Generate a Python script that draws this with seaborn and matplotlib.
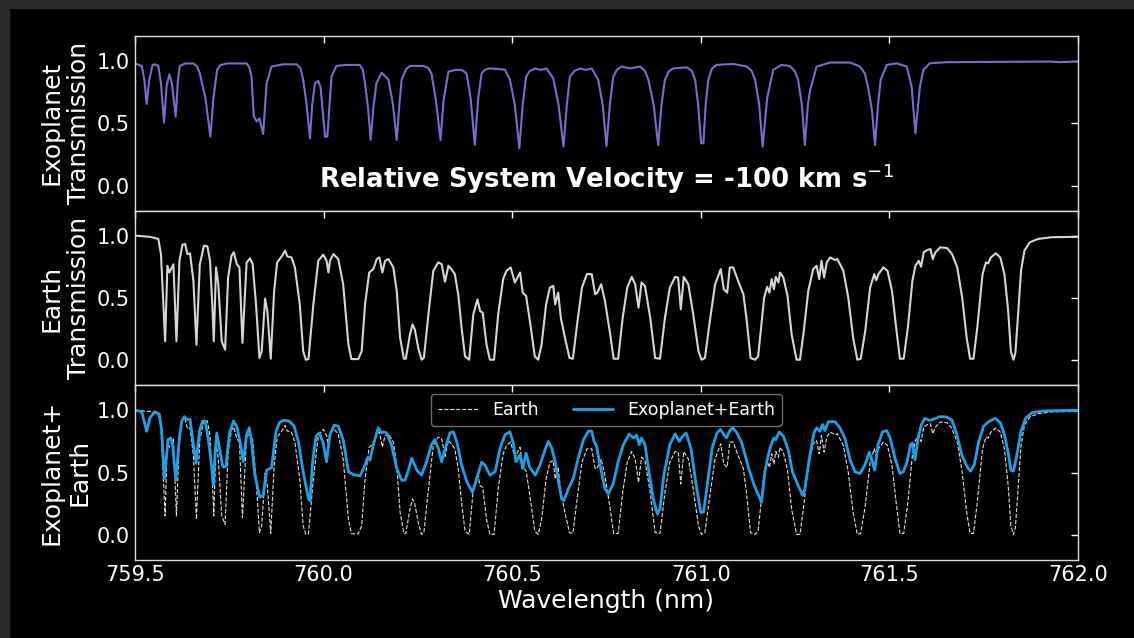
import numpy as np
import pandas as pd
import matplotlib
matplotlib.use("Agg")
import matplotlib.pyplot as plt
from matplotlib.patches import Rectangle
import seaborn as sns

# ---- spectra (wavelength in nm, transmission) ----
exo_wl = [759.500, 759.518, 759.525, 759.531, 759.538, 759.547, 759.553, 759.562, 759.569, 759.577,
          759.584, 759.591, 759.598, 759.608, 759.614, 759.619, 759.633, 759.655, 759.665, 759.672,
          759.687, 759.700, 759.708, 759.718, 759.726, 759.743, 759.796, 759.803, 759.809, 759.815,
          759.823, 759.830, 759.840, 759.849, 759.862, 759.893, 759.929, 759.939, 759.946, 759.955,
          759.964, 759.970, 759.977, 759.986, 759.992, 760.004, 760.010, 760.021, 760.034, 760.061,
          760.096, 760.104, 760.110, 760.118, 760.125, 760.132, 760.140, 760.154, 760.172, 760.184,
          760.194, 760.201, 760.207, 760.218, 760.229, 760.264, 760.277, 760.286, 760.298, 760.310,
          760.318, 760.331, 760.349, 760.366, 760.379, 760.390, 760.401, 760.410, 760.419, 760.428,
          760.441, 760.463, 760.481, 760.494, 760.507, 760.519, 760.528, 760.537, 760.547, 760.561,
          760.576, 760.591, 760.609, 760.623, 760.636, 760.645, 760.653, 760.665, 760.680, 760.695,
          760.711, 760.728, 760.740, 760.750, 760.759, 760.768, 760.778, 760.790, 760.812, 760.839,
          760.852, 760.861, 760.875, 760.887, 760.896, 760.905, 760.915, 760.927, 760.963, 760.976,
          760.985, 760.993, 761.001, 761.007, 761.013, 761.020, 761.030, 761.042, 761.086, 761.122,
          761.135, 761.144, 761.155, 761.164, 761.176, 761.192, 761.214, 761.236, 761.249, 761.258,
          761.268, 761.276, 761.284, 761.290, 761.307, 761.343, 761.396, 761.422, 761.435, 761.445,
          761.454, 761.462, 761.470, 761.477, 761.493, 761.519, 761.546, 761.559, 761.569, 761.581,
          761.590, 761.607, 761.650, 761.926, 761.952, 762.000]
exo_tr = [0.98, 0.96, 0.85, 0.655, 0.85, 0.97, 0.973, 0.96, 0.82, 0.505,
          0.80, 0.893, 0.82, 0.553, 0.85, 0.96, 0.98, 0.98, 0.955, 0.90,
          0.70, 0.393, 0.70, 0.93, 0.965, 0.98, 0.98, 0.95, 0.874, 0.559,
          0.513, 0.54, 0.414, 0.82, 0.955, 0.973, 0.973, 0.94, 0.85, 0.65,
          0.38, 0.65, 0.82, 0.84, 0.79, 0.393, 0.393, 0.874, 0.96, 0.968,
          0.968, 0.93, 0.82, 0.62, 0.366, 0.62, 0.82, 0.906, 0.85, 0.65,
          0.366, 0.65, 0.85, 0.93, 0.96, 0.96, 0.945, 0.90, 0.68, 0.366,
          0.68, 0.914, 0.928, 0.928, 0.90, 0.70, 0.326, 0.70, 0.90, 0.93,
          0.94, 0.935, 0.93, 0.85, 0.65, 0.30, 0.65, 0.874, 0.92, 0.94,
          0.928, 0.94, 0.86, 0.65, 0.313, 0.65, 0.874, 0.92, 0.94, 0.928,
          0.94, 0.85, 0.65, 0.318, 0.65, 0.874, 0.93, 0.955, 0.94, 0.955,
          0.92, 0.85, 0.65, 0.326, 0.65, 0.85, 0.915, 0.94, 0.948, 0.92,
          0.85, 0.65, 0.34, 0.34, 0.65, 0.85, 0.94, 0.968, 0.976, 0.955,
          0.92, 0.85, 0.65, 0.313, 0.70, 0.928, 0.968, 0.96, 0.92, 0.85,
          0.65, 0.326, 0.65, 0.767, 0.955, 0.987, 0.987, 0.955, 0.90, 0.767,
          0.60, 0.326, 0.65, 0.85, 0.968, 0.981, 0.955, 0.794, 0.42, 0.794,
          0.928, 0.981, 0.99, 0.995, 0.99, 0.995]

earth_wl = [759.500, 759.540, 759.562, 759.569, 759.580, 759.586, 759.591, 759.597, 759.602, 759.610,
            759.618, 759.626, 759.633, 759.639, 759.646, 759.655, 759.663, 759.672, 759.683, 759.692,
            759.699, 759.705, 759.709, 759.715, 759.721, 759.730, 759.739, 759.747, 759.756, 759.762,
            759.770, 759.777, 759.785, 759.796, 759.805, 759.812, 759.821, 759.830, 759.836, 759.845,
            759.851, 759.860, 759.869, 759.877, 759.889, 759.898, 759.904, 759.915, 759.924, 759.937,
            759.946, 759.953, 759.960, 759.973, 759.986, 759.999, 760.008, 760.013, 760.017, 760.026,
            760.039, 760.052, 760.066, 760.074, 760.092, 760.101, 760.110, 760.121, 760.132, 760.141,
            760.148, 760.156, 760.163, 760.172, 760.185, 760.194, 760.203, 760.213, 760.218, 760.229,
            760.236, 760.242, 760.251, 760.260, 760.266, 760.278, 760.291, 760.304, 760.313, 760.322,
            760.331, 760.339, 760.348, 760.357, 760.366, 760.375, 760.386, 760.397, 760.408, 760.415,
            760.422, 760.432, 760.441, 760.452, 760.463, 760.476, 760.485, 760.496, 760.507, 760.521,
            760.528, 760.537, 760.547, 760.560, 760.569, 760.578, 760.590, 760.600, 760.609, 760.614,
            760.622, 760.629, 760.640, 760.652, 760.661, 760.671, 760.685, 760.698, 760.711, 760.720,
            760.726, 760.736, 760.746, 760.760, 760.769, 760.781, 760.793, 760.805, 760.817, 760.826,
            760.835, 760.843, 760.852, 760.866, 760.879, 760.892, 760.905, 760.918, 760.932, 760.940,
            760.947, 760.955, 760.967, 760.980, 760.994, 761.002, 761.011, 761.024, 761.038, 761.053,
            761.061, 761.070, 761.077, 761.086, 761.099, 761.113, 761.121, 761.132, 761.144, 761.152,
            761.159, 761.168, 761.176, 761.182, 761.188, 761.194, 761.199, 761.206, 761.210, 761.219,
            761.230, 761.241, 761.254, 761.263, 761.273, 761.285, 761.298, 761.307, 761.314, 761.320,
            761.327, 761.334, 761.343, 761.356, 761.362, 761.378, 761.391, 761.404, 761.415, 761.424,
            761.436, 761.449, 761.460, 761.465, 761.471, 761.484, 761.495, 761.507, 761.518, 761.528,
            761.538, 761.549, 761.561, 761.569, 761.578, 761.584, 761.591, 761.600, 761.609, 761.615,
            761.622, 761.635, 761.653, 761.666, 761.680, 761.693, 761.705, 761.714, 761.723, 761.733,
            761.747, 761.756, 761.762, 761.769, 761.782, 761.794, 761.805, 761.815, 761.822, 761.829,
            761.834, 761.840, 761.849, 761.858, 761.872, 761.894, 761.930, 762.000]
earth_tr = [1.0, 0.99, 0.973, 0.85, 0.153, 0.758, 0.704, 0.739, 0.77, 0.153,
            0.798, 0.927, 0.933, 0.852, 0.858, 0.637, 0.126, 0.77, 0.919, 0.914,
            0.798, 0.449, 0.153, 0.745, 0.61, 0.153, 0.086, 0.664, 0.839, 0.866,
            0.772, 0.745, 0.140, 0.785, 0.817, 0.772, 0.449, 0.019, 0.073, 0.495,
            0.395, 0.013, 0.556, 0.785, 0.833, 0.879, 0.833, 0.825, 0.745, 0.449,
            0.073, 0.005, 0.01, 0.449, 0.798, 0.847, 0.798, 0.704, 0.798, 0.852,
            0.812, 0.61, 0.126, 0.01, 0.01, 0.073, 0.449, 0.704, 0.731, 0.812,
            0.825, 0.704, 0.798, 0.812, 0.745, 0.556, 0.18, 0.013, 0.013, 0.207,
            0.288, 0.247, 0.099, 0.005, 0.02, 0.368, 0.718, 0.785, 0.772, 0.63,
            0.758, 0.731, 0.691, 0.53, 0.261, 0.032, 0.005, 0.368, 0.489, 0.395,
            0.382, 0.126, 0.005, 0.005, 0.368, 0.651, 0.718, 0.745, 0.624, 0.704,
            0.543, 0.516, 0.315, 0.032, 0.005, 0.126, 0.449, 0.583, 0.597, 0.449,
            0.543, 0.341, 0.18, 0.019, 0.013, 0.261, 0.583, 0.691, 0.691, 0.53,
            0.543, 0.61, 0.476, 0.207, 0.013, 0.013, 0.341, 0.583, 0.669, 0.61,
            0.422, 0.624, 0.597, 0.341, 0.019, 0.013, 0.341, 0.583, 0.669, 0.664,
            0.409, 0.669, 0.61, 0.368, 0.073, 0.005, 0.019, 0.315, 0.61, 0.731,
            0.57, 0.543, 0.745, 0.745, 0.637, 0.53, 0.341, 0.019, 0.005, 0.032,
            0.234, 0.503, 0.589, 0.543, 0.651, 0.57, 0.669, 0.624, 0.704, 0.664,
            0.516, 0.207, 0.005, 0.005, 0.234, 0.556, 0.731, 0.758, 0.651, 0.798,
            0.664, 0.785, 0.825, 0.804, 0.812, 0.718, 0.503, 0.18, 0.005, 0.013,
            0.234, 0.583, 0.691, 0.642, 0.691, 0.745, 0.718, 0.556, 0.261, 0.013,
            0.013, 0.261, 0.637, 0.758, 0.798, 0.75, 0.866, 0.884, 0.892, 0.812,
            0.866, 0.906, 0.90, 0.852, 0.745, 0.503, 0.18, 0.013, 0.013, 0.261,
            0.691, 0.785, 0.777, 0.825, 0.858, 0.825, 0.691, 0.395, 0.073, 0.005,
            0.059, 0.315, 0.718, 0.879, 0.946, 0.973, 0.987, 0.99]

combo_wl = [759.500, 759.518, 759.531, 759.540, 759.553, 759.565, 759.571, 759.578, 759.582, 759.588,
            759.595, 759.600, 759.608, 759.618, 759.624, 759.631, 759.637, 759.646, 759.655, 759.662,
            759.671, 759.679, 759.686, 759.694, 759.701, 759.708, 759.712, 759.717, 759.724, 759.733,
            759.741, 759.750, 759.761, 759.770, 759.780, 759.787, 759.796, 759.803, 759.809, 759.818,
            759.831, 759.840, 759.849, 759.862, 759.874, 759.884, 759.895, 759.909, 759.922, 759.933,
            759.946, 759.960, 759.964, 759.971, 759.980, 759.989, 759.999, 760.008, 760.017, 760.028,
            760.039, 760.052, 760.066, 760.079, 760.097, 760.110, 760.116, 760.123, 760.132, 760.145,
            760.154, 760.160, 760.167, 760.180, 760.194, 760.207, 760.216, 760.225, 760.234, 760.247,
            760.260, 760.273, 760.286, 760.295, 760.304, 760.313, 760.323, 760.335, 760.344, 760.353,
            760.366, 760.380, 760.395, 760.406, 760.419, 760.428, 760.441, 760.455, 760.468, 760.481,
            760.494, 760.503, 760.510, 760.521, 760.528, 760.537, 760.546, 760.561, 760.574, 760.587,
            760.596, 760.605, 760.614, 760.620, 760.631, 760.637, 760.649, 760.662, 760.675, 760.689,
            760.702, 760.711, 760.717, 760.724, 760.733, 760.746, 760.755, 760.768, 760.781, 760.795,
            760.810, 760.821, 760.830, 760.837, 760.843, 760.852, 760.864, 760.874, 760.885, 760.892,
            760.902, 760.918, 760.932, 760.943, 760.952, 760.961, 760.974, 760.988, 761.000, 761.007,
            761.016, 761.030, 761.043, 761.052, 761.061, 761.068, 761.077, 761.085, 761.096, 761.109,
            761.127, 761.140, 761.157, 761.161, 761.170, 761.179, 761.188, 761.194, 761.199, 761.208,
            761.219, 761.232, 761.243, 761.258, 761.270, 761.276, 761.288, 761.300, 761.307, 761.316,
            761.323, 761.329, 761.338, 761.356, 761.369, 761.382, 761.396, 761.409, 761.422, 761.435,
            761.447, 761.455, 761.461, 761.470, 761.482, 761.493, 761.502, 761.515, 761.528, 761.537,
            761.547, 761.556, 761.561, 761.568, 761.576, 761.585, 761.594, 761.606, 761.616, 761.634,
            761.652, 761.666, 761.679, 761.692, 761.706, 761.715, 761.725, 761.737, 761.750, 761.763,
            761.781, 761.794, 761.805, 761.816, 761.822, 761.829, 761.838, 761.849, 761.861, 761.878,
            761.909, 762.000]
combo_tr = [1.0, 0.989, 0.832, 0.94, 0.989, 0.967, 0.832, 0.453, 0.588, 0.764,
            0.778, 0.724, 0.439, 0.778, 0.913, 0.949, 0.927, 0.927, 0.724, 0.575,
            0.832, 0.913, 0.913, 0.778, 0.615, 0.398, 0.642, 0.818, 0.696, 0.547,
            0.547, 0.805, 0.913, 0.873, 0.724, 0.588, 0.805, 0.859, 0.751, 0.48,
            0.304, 0.317, 0.52, 0.539, 0.832, 0.905, 0.919, 0.913, 0.873, 0.751,
            0.507, 0.29, 0.276, 0.588, 0.791, 0.818, 0.737, 0.588, 0.805, 0.881,
            0.873, 0.764, 0.507, 0.485, 0.474, 0.561, 0.615, 0.60, 0.724, 0.859,
            0.818, 0.827, 0.818, 0.724, 0.534, 0.439, 0.439, 0.52, 0.615, 0.52,
            0.48, 0.588, 0.724, 0.764, 0.696, 0.588, 0.70, 0.818, 0.827, 0.751,
            0.561, 0.425, 0.344, 0.453, 0.583, 0.561, 0.48, 0.507, 0.696, 0.805,
            0.827, 0.737, 0.588, 0.642, 0.534, 0.656, 0.547, 0.48, 0.561, 0.683,
            0.751, 0.696, 0.588, 0.48, 0.29, 0.276, 0.371, 0.453, 0.615, 0.764,
            0.832, 0.832, 0.751, 0.71, 0.561, 0.371, 0.331, 0.412, 0.588, 0.724,
            0.81, 0.778, 0.80, 0.724, 0.778, 0.724, 0.48, 0.29, 0.168, 0.209,
            0.48, 0.724, 0.81, 0.751, 0.791, 0.818, 0.696, 0.398, 0.182, 0.182,
            0.371, 0.696, 0.818, 0.846, 0.805, 0.778, 0.837, 0.859, 0.818, 0.737,
            0.534, 0.412, 0.29, 0.263, 0.507, 0.642, 0.737, 0.778, 0.764, 0.827,
            0.791, 0.683, 0.507, 0.398, 0.317, 0.371, 0.615, 0.818, 0.859, 0.832,
            0.886, 0.837, 0.908, 0.908, 0.859, 0.778, 0.602, 0.507, 0.493, 0.561,
            0.664, 0.588, 0.52, 0.724, 0.827, 0.837, 0.778, 0.615, 0.493, 0.507,
            0.588, 0.724, 0.737, 0.602, 0.778, 0.886, 0.935, 0.919, 0.927, 0.949,
            0.946, 0.921, 0.805, 0.642, 0.547, 0.512, 0.561, 0.751, 0.873, 0.908,
            0.935, 0.90, 0.805, 0.642, 0.52, 0.512, 0.642, 0.832, 0.935, 0.981,
            0.995, 1.0]

x_ticks = [759.5, 760.0, 760.5, 761.0, 761.5, 762.0]
y_ticks = [0.0, 0.5, 1.0]
panel_labels = ["Exoplanet\nTransmission", "Earth\nTransmission", "Exoplanet+\nEarth"]
velocity_text = "Relative System Velocity = -100 km s$^{-1}$"

exo = pd.DataFrame({"wl": exo_wl, "tr": exo_tr})
earth = pd.DataFrame({"wl": earth_wl, "tr": earth_tr})
combo = pd.DataFrame({"wl": combo_wl, "tr": combo_tr})

sns.set_style("dark")
plt.rcParams.update({
    "figure.facecolor": "black",
    "axes.facecolor": "black",
    "axes.edgecolor": "#dddddd",
    "axes.linewidth": 1.0,
    "text.color": "white",
    "axes.labelcolor": "white",
    "xtick.color": "white",
    "ytick.color": "white",
    "font.family": ["DejaVu Sans"],
    "axes.grid": False,
    "lines.solid_joinstyle": "round",
})

fig, axes = plt.subplots(3, 1, figsize=(11.34, 6.38), dpi=100, sharex=True)
fig.subplots_adjust(left=0.119, right=0.9506, top=0.9436, bottom=0.1223, hspace=0)

purple = "#7a6bd0"
grey = "#d6d6d6"
blue = "#1e9fe6"

sns.lineplot(data=exo, x="wl", y="tr", ax=axes[0], color=purple, lw=1.5,
             estimator=None, sort=False)
sns.lineplot(data=earth, x="wl", y="tr", ax=axes[1], color=grey, lw=1.5,
             estimator=None, sort=False)
sns.lineplot(data=earth, x="wl", y="tr", ax=axes[2], color="#e6ddd2", lw=0.8,
             linestyle="--", estimator=None, sort=False, label="Earth")
sns.lineplot(data=combo, x="wl", y="tr", ax=axes[2], color=blue, lw=2.0,
             estimator=None, sort=False, label="Exoplanet+Earth")

for ax, lab in zip(axes, panel_labels):
    ax.set_xlim(x_ticks[0], x_ticks[-1])
    ax.set_ylim(-0.2, 1.2)
    ax.set_xticks(x_ticks)
    ax.set_yticks(y_ticks)
    ax.set_ylabel(lab, fontsize=18, color="white", labelpad=4)
    ax.set_xlabel("")
    ax.tick_params(direction="in", length=5, width=1, top=True, right=True,
                   labelsize=15, colors="white")
    ax.tick_params(axis="x", labelbottom=False)
    for s in ax.spines.values():
        s.set_color("#dddddd")
        s.set_linewidth(1.0)

axes[2].tick_params(axis="x", labelbottom=True)
axes[2].set_xticklabels([f"{t:.1f}" for t in x_ticks])
axes[2].set_yticklabels([f"{t:.1f}" for t in y_ticks])
axes[2].set_xlabel("Wavelength (nm)", fontsize=18, color="white", labelpad=3)

axes[0].text(760.75, -0.02, velocity_text, ha="center", va="baseline",
             fontsize=18.7, fontweight="bold", color="white")

leg = axes[2].legend(loc="upper center", ncol=2, fontsize=12.5, frameon=True,
                     handlelength=2.3, columnspacing=2.0)
leg.get_frame().set_facecolor("black")
leg.get_frame().set_edgecolor("#888888")
for t in leg.get_texts():
    t.set_color("white")

# dark frame strips around the canvas
W, H = 1134, 638
fig.add_artist(Rectangle((0, 1 - 8 / H), 1, 8 / H, transform=fig.transFigure,
                         color="#2b2b2b", zorder=10))
fig.add_artist(Rectangle((0, 0), 9 / W, 1, transform=fig.transFigure,
                         color="#2b2b2b", zorder=10))

fig.savefig("out.png", dpi=100, facecolor="black")
